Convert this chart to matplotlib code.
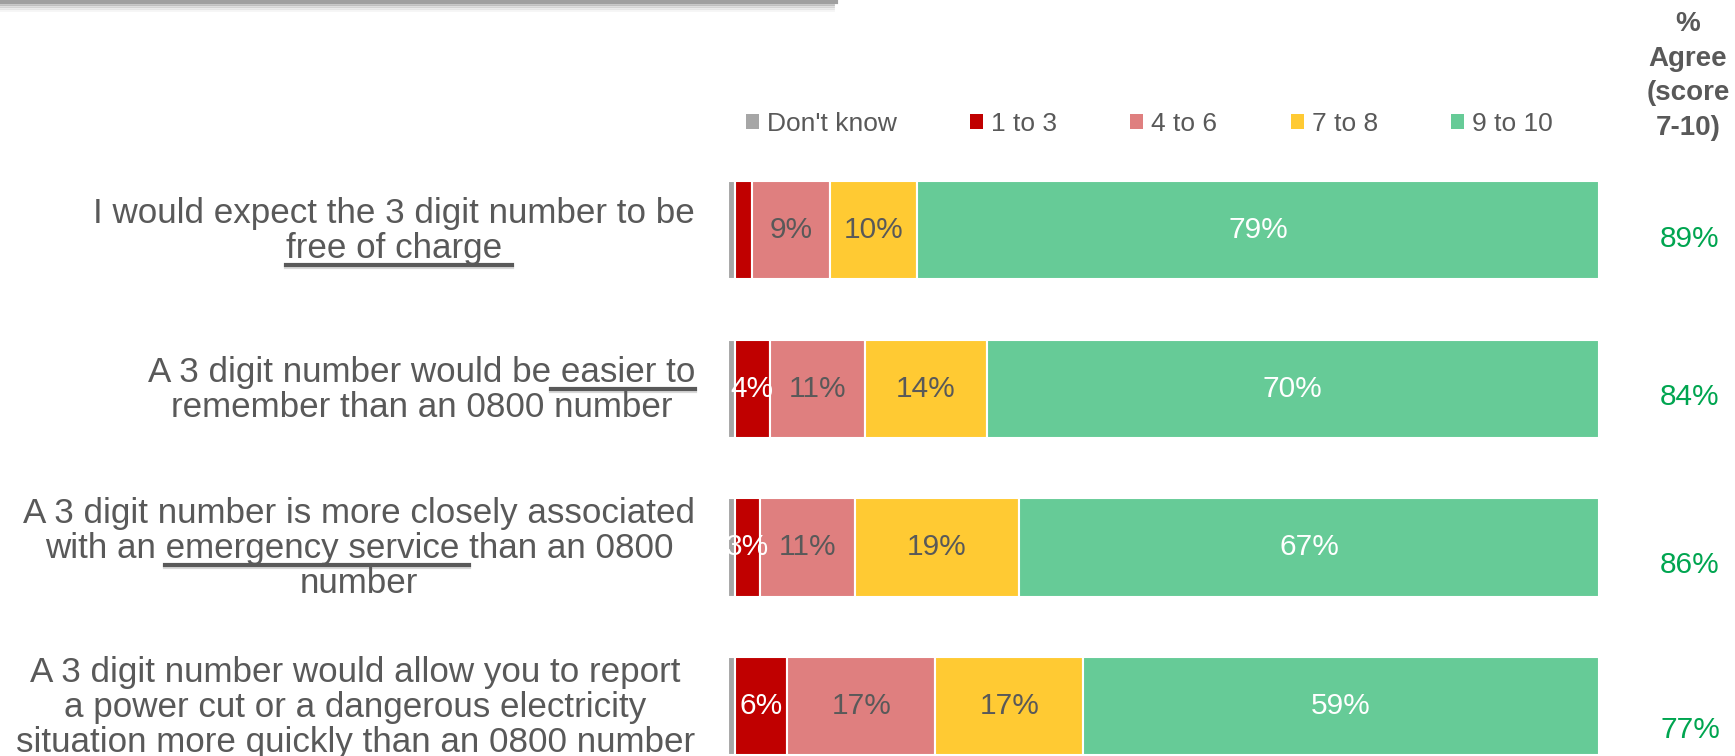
import matplotlib
matplotlib.use("Agg")
import matplotlib.pyplot as plt
from matplotlib.patches import Patch
from matplotlib.lines import Line2D

# --- data ---
categories = [
    "I would expect the 3 digit number to be\nfree of charge",
    "A 3 digit number would be easier to\nremember than an 0800 number",
    "A 3 digit number is more closely associated\nwith an emergency service than an 0800\nnumber",
    "A 3 digit number would allow you to report\na power cut or a dangerous electricity\nsituation more quickly than an 0800 number",
]
# underlined part of each label: (line index, text before, underlined text)
underlines = [
    (1, "", " free of charge"),
    (0, "A 3 digit number would be", " easier to"),
    (1, "with an ", "emergency service "),
    None,
]

series = ["Don't know", "1 to 3", "4 to 6", "7 to 8", "9 to 10"]
dont_know = [0.8, 0.8, 0.8, 0.8]
score_1_3 = [2.0, 4.0, 2.9, 6.0]
score_4_6 = [8.9, 10.9, 10.9, 17.0]
score_7_8 = [10.0, 14.0, 18.8, 17.0]
score_9_10 = [78.3, 70.3, 66.6, 59.2]

labels_dk = ["", "", "", ""]
labels_1_3 = ["", "4%", "3%", "6%"]
labels_4_6 = ["9%", "11%", "11%", "17%"]
labels_7_8 = ["10%", "14%", "19%", "17%"]
labels_9_10 = ["79%", "70%", "67%", "59%"]

agree = ["89%", "84%", "86%", "77%"]

colors = ["#A6A6A6", "#C00000", "#DF7F7F", "#FFCA33", "#66CB97"]
label_colors = ["white", "white", "#595959", "#595959", "white"]
TXT = "#595959"
GREEN_TXT = "#00A550"
FONT = ["Liberation Sans", "DejaVu Sans"]

W, H = 1735, 756
fig = plt.figure(figsize=(W / 100, H / 100), dpi=100)
renderer = fig.canvas.get_renderer()

ax = fig.add_axes([728 / W, 0, 871 / W, 1])
ax.set_xlim(0, 100)
ax.set_ylim(3.314, -1.449)
ax.axis("off")

values = [dont_know, score_1_3, score_4_6, score_7_8, score_9_10]
seg_labels = [labels_dk, labels_1_3, labels_4_6, labels_7_8, labels_9_10]
ypos = list(range(len(categories)))
left = [0.0] * len(categories)
for k, vals in enumerate(values):
    bars = ax.barh(ypos, vals, left=left, height=0.62, color=colors[k],
                   edgecolor="white", linewidth=1.5, label=series[k])
    for i, b in enumerate(bars):
        if seg_labels[k][i]:
            ax.text(b.get_x() + b.get_width() / 2, ypos[i], seg_labels[k][i],
                    ha="center", va="center", fontsize=21.5, color=label_colors[k],
                    family=FONT)
    left = [l + v for l, v in zip(left, vals)]


def width_px(s, **kw):
    if not s:
        return 0.0
    t = fig.text(0, 0, s, **kw)
    w = t.get_window_extent(renderer).width
    t.remove()
    return w


# category labels, drawn line by line so underlines can be placed
label_kw = dict(fontsize=25.2, color=TXT, family=FONT)
right_px = 695
step_px = 35
for i, cat in enumerate(categories):
    lines = cat.split("\n")
    yc = ax.transData.transform((0, ypos[i]))[1] - 1
    widths = [width_px(l, **label_kw) for l in lines]
    xc = right_px - max(widths) / 2
    n = len(lines)
    for j, line in enumerate(lines):
        y = yc - (j - (n - 1) / 2) * step_px
        fig.text(xc / W, y / H, line, ha="center", va="center", **label_kw)
    ul = underlines[i]
    if ul:
        j, pre, word = ul
        x0 = xc - widths[j] / 2 + width_px(pre, **label_kw)
        x1 = xc - widths[j] / 2 + width_px(pre + word, **label_kw)
        y = yc - (j - (n - 1) / 2) * step_px - 17
        fig.add_artist(Line2D([x0 / W, x1 / W], [(y - 2) / H, (y - 2) / H],
                              transform=fig.transFigure, color="#BFBFBF", lw=3, alpha=0.6))
        fig.add_artist(Line2D([x0 / W, x1 / W], [y / H, y / H],
                              transform=fig.transFigure, color="#595959", lw=3))

# % agree column
agree_dy = [9, 8, 18, 24]
for i, a in enumerate(agree):
    yc = ax.transData.transform((0, ypos[i]))[1] - agree_dy[i]
    fig.text(1690 / W, yc / H, a, ha="center", va="center", fontsize=21.5,
             color=GREEN_TXT, family=FONT)

fig.text(1688 / W, 1 - 76 / H, "%\nAgree\n(score\n7-10)", ha="center", va="center",
         fontsize=20, fontweight="bold", color=TXT, family=FONT, linespacing=1.43)

handles = [Patch(facecolor=c, edgecolor="none", label=s) for c, s in zip(colors, series)]
fig.legend(handles=handles, loc="center left", bbox_to_anchor=(746 / W, 1 - 124 / H),
           ncol=5, frameon=False, handlelength=0.5, handleheight=0.5,
           handletextpad=0.3, columnspacing=2.77, borderpad=0, borderaxespad=0,
           labelcolor=TXT, prop={"family": FONT, "size": 19})

# shadowed box edge at top left
for dy, a in [(10, 0.08), (8, 0.15), (6, 0.25), (4, 0.4)]:
    fig.add_artist(Line2D([0, 833 / W], [1 - dy / H, 1 - dy / H], transform=fig.transFigure,
                          color="#808080", lw=2, alpha=a))
fig.add_artist(Line2D([0, 836 / W], [1 - 2 / H, 1 - 2 / H], transform=fig.transFigure,
                      color="#A0A0A0", lw=3))

fig.savefig("out.png", dpi=100)
